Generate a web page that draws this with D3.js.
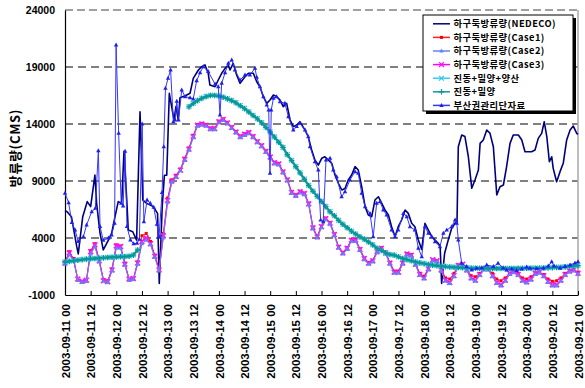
<!DOCTYPE html>
<html><head><meta charset="utf-8">
<script src="https://cdn.jsdelivr.net/npm/d3@7"></script>
<style>body{margin:0;background:#fff}</style>
</head><body><svg id="c" width="585" height="388"></svg>
<script>
// ---------------- DATA ----------------
const tickHours = [0,12,24,36,48,60,72,84,96,108,120,132,144,156,168,180,192,204,216,228,240];
const tickLabels = ["2003-09-11 00","2003-09-11 12","2003-09-12 00","2003-09-12 12","2003-09-13 00","2003-09-13 12",
  "2003-09-14 00","2003-09-14 12","2003-09-15 00","2003-09-15 12","2003-09-16 00","2003-09-16 12","2003-09-17 00",
  "2003-09-17 12","2003-09-18 00","2003-09-18 12","2003-09-19 00","2003-09-19 12","2003-09-20 00","2003-09-20 12","2003-09-21 00"];
const yTickValues = [-1000,4000,9000,14000,19000,24000];
const seriesNames = ["하구둑방류량(NEDECO)","하구둑방류량(Case1)","하구둑방류량(Case2)","하구둑방류량(Case3)","진동+밀양+양산","진동+밀양","부산권관리단자료"];

// hours for 2-hourly series
const caseHours = d3.range(0, 241, 2);

const case1Flow = [
 1900,2800,2200,300,100,200,2900,3500,2100,350,250,1300,
 3400,3300,1800,300,350,1900,4200,4400,3700,2500,1300,4400,
 7500,9100,9500,10050,11000,11900,13000,13950,14050,13950,13650,13650,
 14250,14450,14150,13750,13350,12950,13150,13300,12950,12500,12150,11650,
 11150,10650,10550,9850,9150,8050,7800,8100,7950,7050,4950,4150,
 5050,5750,5350,4350,3250,2750,3150,3850,3850,3050,2250,1850,
 2050,2850,3150,2750,1850,1100,1100,1850,2650,2550,1750,900,
 650,1350,2100,2000,1300,500,400,900,1650,1700,1300,700,
 600,900,1300,1300,900,400,250,500,900,1050,900,500,
 400,600,950,1000,800,400,200,250,500,900,1150,1200,
 1000];
const case2Flow = [
 1700,2500,2000,300,100,200,2600,3200,1900,200,100,1100,
 3100,3100,1600,300,350,1700,3500,3800,3400,2300,1100,4000,
 7100,8900,9300,9900,10800,11700,12800,13800,13900,13800,13500,13500,
 14100,14300,14000,13600,13200,12800,13000,13150,12800,12350,12000,11500,
 11000,10500,10400,9700,9000,7900,7650,7950,7800,6900,4800,4000,
 4900,5600,5200,4200,3100,2600,3000,3700,3700,2900,2100,1700,
 1900,2700,3000,2600,1700,900,900,1700,2500,2400,1600,700,
 400,1200,2000,1900,1100,200,0,600,1500,1600,1100,400,
 200,700,1200,1200,600,0,-200,200,800,950,700,200,
 50,300,800,900,600,100,-200,-200,200,700,1000,1100,
 800];
const case3Flow = [
 1800,2700,2100,400,200,300,2800,3400,2000,250,170,1200,
 3300,3250,1700,400,450,1800,3700,4000,3500,2400,1200,4200,
 7300,9000,9400,9950,10900,11800,12900,13900,14000,13900,13600,13600,
 14200,14400,14100,13700,13300,12900,13100,13250,12900,12450,12100,11600,
 11100,10600,10500,9800,9100,8000,7750,8050,7900,7000,4900,4100,
 5000,5700,5300,4300,3200,2700,3100,3800,3800,3000,2200,1800,
 2000,2800,3100,2700,1800,1000,1000,1800,2600,2500,1700,800,
 500,1300,2100,2000,1200,300,100,700,1600,1700,1200,500,
 300,800,1300,1300,700,100,-100,300,900,1050,800,300,
 150,400,900,1000,700,200,-100,-100,300,800,1100,1200,
 900];
const jdmyFlow = [   // 진동+밀양+양산
 1920,1970,2020,2070,2110,2160,2190,2210,2240,2270,2300,2320,
 2340,2360,2380,2420,2520,2950,null,null,null,null,null,null,
 null,null,null,null,null,15520,15820,16070,16270,16420,16520,16520,
 16470,16370,16220,16070,15870,15620,15370,15070,14770,14470,14120,13720,
 13320,12870,12420,11950,11320,10820,10270,9720,9170,8620,8120,7670,
 7220,6770,6320,5950,5550,5200,4900,4600,4350,4100,3900,3650,
 3400,3100,2900,2700,2550,2500,2350,2200,2100,2000,1900,1820,
 1760,1690,1630,1580,1540,1500,1470,1440,1420,1400,1380,1370,
 1360,1350,1350,1340,1340,1340,1340,1340,1340,1340,1350,1350,
 1350,1360,1360,1370,1380,1390,1410,1430,1450,1480,1510,1550,
 1590];
const jdmFlow = [    // 진동+밀양
 1900,1950,2000,2050,2100,2150,2180,2200,2230,2260,2290,2310,
 2330,2350,2370,2400,2500,2950,null,null,null,null,null,null,
 null,null,null,null,null,15500,15800,16050,16250,16400,16500,16500,
 16450,16350,16200,16050,15850,15600,15350,15050,14750,14450,14100,13700,
 13300,12850,12400,11950,11300,10800,10250,9700,9150,8600,8100,7650,
 7200,6750,6300,5950,5550,5200,4900,4600,4350,4100,3900,3650,
 3400,3100,2900,2700,2550,2500,2350,2200,2100,2000,1900,1820,
 1750,1680,1620,1570,1530,1490,1460,1430,1410,1390,1370,1360,
 1350,1340,1340,1330,1330,1330,1330,1330,1330,1330,1340,1340,
 1340,1350,1350,1360,1370,1380,1400,1420,1440,1470,1500,1540,
 1580];

const nedecoHours = [0,1,3,5.5,6.2,8.3,10.4,12,14,14.8,16.4,17.9,20.3,21.8,23.4,24.9,26.5,27.6,28.9,29.6,31.7,33.5,35.1,36.4,38.2,41.3,43.3,44.1,45.5,46.5,47.6,48.8,49.9,51,51.9,53,53.8,56.5,58.5,60,62.4,64,65.5,67,67.8,70.2,71.7,73.3,74.9,76.4,77.2,78.7,80.3,81.9,84.2,85.8,88.1,89.7,91.2,92.8,94.4,95.9,97.5,99,100.6,102.1,103.7,105.3,106.8,108.4,109.9,111.5,112.3,113.8,115.4,116.9,118.5,120.1,121.6,123.2,124.8,126.3,127.9,129.5,131,132.5,134.1,135.7,137.2,138.8,140.4,141.9,143.5,145,146.6,148.2,149.7,151.3,152.8,154.4,155.9,157.5,159.1,160.6,162.2,163.7,165.3,166.9,168.4,170,171.6,173.1,174.6,175.5,176.2,177.6,179.3,180.9,182.5,183.4,184,185.6,187.1,188.7,190.3,191.8,193.4,194.2,195.7,197.3,198.8,200.4,202,203.5,205.1,206.6,208.2,209.7,212.1,213.7,215.2,216.8,218.3,219.9,221.4,223,224.2,225.4,226.6,227.7,228.4,230,231.6,233.1,234.7,236.3,237.8,239.4,240];
const nedecoFlow = [6400,6300,5870,3240,2600,5870,7190,6750,9520,7040,4410,2950,3820,4410,5870,7190,7040,11600,7330,4700,4550,3820,15080,7330,7040,6750,6160,20,6800,9500,9500,16690,15520,14350,15520,14350,16300,16500,16700,18000,18740,19030,19180,18450,17420,17270,17860,18450,18880,19180,18740,19320,18300,17570,18150,18450,18450,17710,17270,16400,15810,16100,16540,16400,16100,15520,15810,14350,13770,13910,14200,13700,13470,12890,11720,10840,10400,10990,11130,10840,10550,9530,8800,8210,8350,9090,9530,10260,9960,8500,6750,6020,5870,7330,7620,7040,6460,6020,4990,4120,4990,5580,6460,6160,5290,4990,3820,3000,5290,4700,4120,3820,3530,3300,20,2660,3820,4850,5290,5400,12010,13030,12900,11130,8360,9090,9960,12300,12600,13470,13200,12010,7770,8500,8650,10260,12300,13030,13030,12600,11570,11570,11570,11720,12740,13180,14200,12900,10690,11130,10110,8940,9820,10550,12600,13470,13820,13180,13090];

const busanHours = [0,1.7,3.2,4.7,6.2,8.6,10.1,12.5,14.2,15.6,16.4,17.9,20.3,21.8,23.2,23.9,25.1,26.3,27.2,28.1,29,30.6,32.1,33.7,34.8,36.1,36.9,38.4,39.9,41.5,43,44,45.4,46.2,47,48.2,49.4,50.7,51.5,52.3,53.1,54.6,56.2,58.5,60,61.6,63.2,64.7,67,70.2,71.7,72.5,73.3,74.9,76.4,78,79.5,81.9,84.2,86.5,88.9,89.7,91.2,92.8,94.4,95.3,95.9,96.5,97.5,99,100.6,102.9,104.5,106.8,108.4,109.9,112.3,113.8,114.6,116.9,118.5,119.6,120.8,122.1,124,125.5,127.1,129.4,131,133.3,135.7,137.2,138.8,140.4,142.7,144.2,145.8,147.4,148.9,150.5,152.8,154.4,155.9,158.3,159.9,161.4,163.7,165.3,166.9,168.4,170,171.6,173.1,175.4,177,178.6,180.9,182.5,183.3,184,185.6,187.9,190.3,192.6,195,197.3,200.4,202.6,205,206.6,209,211.3,213.7,216,217.5,220.7,223.8,226.1,227.7,228.8,231.6,233.9,236.3,238.6,240];
const busanFlow = [7920,7100,5350,4700,3700,4120,5140,6310,6600,11650,5000,3800,4000,4260,5290,20930,13180,7040,6800,11600,5000,3820,3500,3530,3900,14000,5430,7330,7040,6700,5200,4120,8000,12000,17130,18010,18740,14200,14350,16000,14350,16980,16400,16300,16200,17800,18500,19030,18600,17500,17270,14790,17570,18500,19320,19610,18740,17860,18300,18300,18880,18100,17270,16400,15670,15230,9670,15230,16250,16400,15960,15810,14640,13470,13770,14060,13470,12890,12010,10690,9960,5580,5430,10840,10990,9960,9380,7620,8060,9090,9820,9670,7920,6750,6160,4120,7040,7190,6460,6020,4700,4120,4700,6160,5870,4990,4700,3100,2360,4990,4410,4120,3680,3240,4410,4700,4990,5580,5300,3820,1780,1490,1190,1340,1370,1630,1490,1780,1370,1190,1280,1140,1280,1460,1340,1320,1340,1540,1920,1540,1340,1490,1630,1800,1920];

// ---------------- CHART ----------------
const W = 585, H = 388;
const P = {l: 65, r: 578, t: 10, b: 295};
const x = d3.scaleLinear().domain([0, 240]).range([P.l, P.r]);
const y = d3.scaleLinear().domain([-1000, 24000]).range([P.b, P.t]);
const svg = d3.select('#c');
svg.append('rect').attr('width', W).attr('height', H).attr('fill', '#fff');

const latin = "'Liberation Sans', Arial, sans-serif";
const kor = "'Noto Sans CJK KR', 'Noto Sans', sans-serif";

// grid
svg.append('g').selectAll('line')
  .data(yTickValues.filter(v => v > -1000 && v < 24000)).join('line')
  .attr('x1', P.l).attr('x2', P.r).attr('y1', d => y(d)).attr('y2', d => y(d))
  .attr('stroke', '#000').attr('stroke-width', 1).attr('stroke-dasharray', '8,5');
// top frame (grey dashed) and right frame (grey)
svg.append('line').attr('x1', P.l).attr('x2', P.r).attr('y1', y(24000)).attr('y2', y(24000))
  .attr('stroke', '#a0a0a0').attr('stroke-width', 2).attr('stroke-dasharray', '8,4');
svg.append('line').attr('x1', P.r).attr('x2', P.r).attr('y1', P.t).attr('y2', P.b)
  .attr('stroke', '#a8a8a8').attr('stroke-width', 1.5);

// axes
const yAxis = svg.append('g').attr('transform', `translate(${P.l},0)`)
  .call(d3.axisLeft(y).tickValues(yTickValues).tickSize(0).tickPadding(10).tickFormat(d => d < 0 ? '-' + Math.abs(d) : String(d)));
yAxis.select('.domain').attr('stroke', '#000').attr('stroke-width', 1.2);
yAxis.selectAll('text').attr('font-family', latin).attr('font-weight', 'bold').attr('font-size', '10.5px').attr('fill', '#000');

const xAxis = svg.append('g').attr('transform', `translate(0,${P.b})`)
  .call(d3.axisBottom(x).tickValues(tickHours).tickSize(-4).tickSizeOuter(0).tickFormat((d, i) => tickLabels[i]));
xAxis.select('.domain').attr('stroke', '#000').attr('stroke-width', 1.2);
xAxis.selectAll('line').attr('stroke', '#000');
xAxis.selectAll('text')
  .attr('transform', 'rotate(-90)').attr('text-anchor', 'end')
  .attr('x', -9).attr('y', 0).attr('dy', '0.36em')
  .attr('font-family', latin).attr('font-weight', 'bold').attr('font-size', '11.5px').attr('fill', '#000');

// y title
svg.append('text').attr('transform', 'translate(20,148) rotate(-90)').attr('text-anchor', 'middle')
  .attr('font-family', kor).attr('font-weight', 'bold').attr('font-size', '13px').attr('letter-spacing', '0.6px').text('방류량(CMS)');

// series
const pairs = (hs, vs) => hs.map((h, i) => [h, vs[i]]);
const line = d3.line().defined(d => d[1] != null).x(d => x(d[0])).y(d => y(d[1]));

const markerPaths = {
  square: 'M-1.5,-1.5H1.5V1.5H-1.5Z',
  tri: 'M0,-2.5L2.2,1.5H-2.2Z',
  x: 'M-2.4,-2.4L2.4,2.4M-2.4,2.4L2.4,-2.4',
  plus: 'M-2.8,0H2.8M0,-2.8V2.8'
};
const series = [
  {name: seriesNames[0], data: pairs(nedecoHours, nedecoFlow), color: '#00007a', width: 1.6, marker: null},
  {name: seriesNames[1], data: pairs(caseHours, case1Flow), color: '#ff2020', width: 1, marker: 'square', mcolor: '#ff0000'},
  {name: seriesNames[2], data: pairs(caseHours, case2Flow), color: '#5f86f0', width: 1, marker: 'tri', mcolor: '#5f86f0'},
  {name: seriesNames[3], data: pairs(caseHours, case3Flow), color: '#ff00ff', width: 1.2, marker: 'x', mcolor: '#ff10ff', mw: 1.6},
  {name: seriesNames[4], data: pairs(caseHours, jdmyFlow), color: '#33ccff', width: 1, marker: 'x', mcolor: '#30c8e8'},
  {name: seriesNames[5], data: pairs(caseHours, jdmFlow), color: '#119a9a', width: 2.4, marker: 'plus', mcolor: '#0a9696', mw: 1.4},
  {name: seriesNames[6], data: pairs(busanHours, busanFlow), color: '#3535ff', width: 1, marker: 'tri', mcolor: '#2020ee'}
];
// drawing order: Case1, Case3 under Case2 line so the blue line shows inside the magenta band
const drawOrder = [0, 1, 3, 2, 4, 5, 6];

const plot = svg.append('g');
function drawLine(s) {
  plot.append('path').datum(s.data).attr('d', line)
    .attr('fill', 'none').attr('stroke', s.color).attr('stroke-width', s.width).attr('stroke-linejoin', 'round');
}
function drawMarks(s) {
  if (!s.marker) return;
  const filled = s.marker === 'square' || s.marker === 'tri';
  plot.append('g').selectAll('path').data(s.data.filter(d => d[1] != null)).join('path')
    .attr('transform', d => `translate(${x(d[0])},${y(d[1])})`)
    .attr('d', markerPaths[s.marker])
    .attr('fill', filled ? s.mcolor : 'none')
    .attr('stroke', filled ? 'none' : s.mcolor)
    .attr('stroke-width', s.mw || 1.2);
}
drawOrder.forEach(i => { drawLine(series[i]); drawMarks(series[i]); });

// legend
const L = {x: 423, y: 15, w: 150, h: 96};
const lg = svg.append('g');
lg.append('rect').attr('x', L.x + 3).attr('y', L.y + 3).attr('width', L.w).attr('height', L.h).attr('fill', '#000');
lg.append('rect').attr('x', L.x).attr('y', L.y).attr('width', L.w).attr('height', L.h).attr('fill', '#fff').attr('stroke', '#000').attr('stroke-width', 1);
series.forEach((s, i) => {
  const cy = L.y + 8.8 + i * 13.6;
  lg.append('line').attr('x1', L.x + 10).attr('x2', L.x + 27).attr('y1', cy).attr('y2', cy)
    .attr('stroke', s.color).attr('stroke-width', s === series[5] ? 1.5 : 1.5);
  if (s.marker) {
    const filled = s.marker === 'square' || s.marker === 'tri';
    lg.append('path').attr('transform', `translate(${L.x + 18.5},${cy})`).attr('d', markerPaths[s.marker])
      .attr('fill', filled ? s.mcolor : 'none').attr('stroke', filled ? 'none' : s.mcolor).attr('stroke-width', 1.2);
  }
  lg.append('text').attr('x', L.x + 30.5).attr('y', cy).attr('dy', '0.36em')
    .attr('font-family', kor).attr('font-weight', 'bold').attr('font-size', '9.3px').attr('letter-spacing', '0.45px')
    .attr('fill', '#000').text(s.name);
});
</script></body></html>
